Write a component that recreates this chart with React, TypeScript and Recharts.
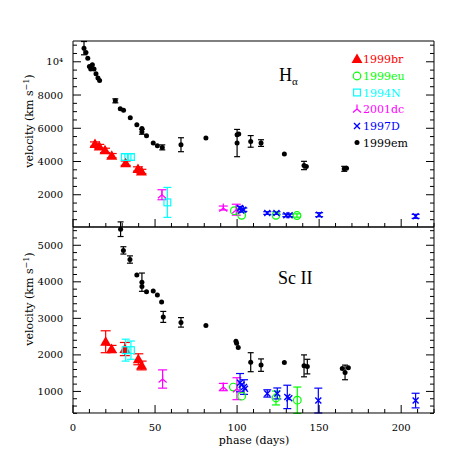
import React from "react"
import { ScatterChart, Scatter, XAxis, YAxis, ErrorBar } from "recharts"

type Pt = [number, number, number | null]

// H-alpha panel: [phase, velocity, error]
const haBr99: Pt[] = [[13.4, 5050, 130], [16, 4900, 130], [19.5, 4670, 130], [23.6, 4350, 130], [32.1, 3900, 130], [39.6, 3550, 130], [41.7, 3400, 130]]
const haEu99: Pt[] = [[98.3, 1040, null], [102.8, 760, null], [123.7, 760, null], [136.5, 750, 100]]
const haN94: Pt[] = [[31.6, 4270, 200], [35.3, 4270, 200], [57.5, 1540, 900]]
const haDc01: Pt[] = [[54.2, 2000, 300], [91.6, 1200, 120], [99.5, 1100, 330]]
const haD97: Pt[] = [[101.8, 1200, 100], [102.5, 1050, 80], [103.8, 1100, 100], [118.4, 900, 80], [124, 900, 80], [130, 760, 80], [132, 760, 80], [150, 800, 120], [208.8, 700, 120]]
const haEm99: Pt[] = [
  [6.7, 10820, 400], [7.9, 10560, null], [9.0, 10220, null], [10.0, 9720, null], [10.8, 9560, null], [11.8, 9820, null],
  [12.8, 9560, null], [14.0, 9280, null], [15.2, 9020, null], [16.2, 8880, null], [25.8, 7650, 120], [28.8, 7170, null],
  [30.8, 7090, null], [34.9, 6630, null], [38.9, 6210, null], [42.0, 5990, null], [42.0, 5790, 150], [44.8, 5550, null],
  [48.9, 5110, null], [51.4, 4950, null], [54.4, 4850, 150], [65.8, 5010, 420], [81, 5410, null], [100, 5610, null],
  [101, 5650, null], [100, 5110, 820], [108.3, 5210, 350], [114.6, 5110, 200], [128.8, 4450, null], [140.8, 3760, 250],
  [142.2, 3700, null], [165.3, 3560, 150], [166.7, 3600, null],
]

// Sc II panel
const scBr99: Pt[] = [[19.9, 2360, 300], [23.5, 2160, 100], [31.6, 2160, 180], [39.8, 1880, 150], [41.8, 1710, 120]]
const scEu99: Pt[] = [[97.7, 1120, null], [102.8, 870, null], [123.7, 820, 190], [136.7, 760, 360]]
const scN94: Pt[] = [[32.1, 2130, 300], [35.3, 2130, 250]]
const scDc01: Pt[] = [[54.6, 1340, 250], [91.6, 1120, 100], [99.9, 1075, 300]]
const scD97: Pt[] = [[101.8, 1240, 250], [102.8, 1180, null], [104.2, 1120, 200], [104.8, 1075, null], [118.4, 945, 100], [124.5, 945, 150], [130.6, 850, 320], [131.8, 815, null], [149.5, 750, 340], [208.8, 750, 200]]
const scEm99: Pt[] = [
  [29, 5440, 200], [30.7, 4860, 100], [34.7, 4610, 100], [38.9, 4190, null], [42, 3990, 250], [42, 3870, null],
  [44.8, 3730, null], [48.9, 3750, null], [51.4, 3640, null], [54, 3450, null], [55, 3040, 150], [65.8, 2890, 130],
  [81, 2805, null], [99.3, 2375, null], [99.7, 2320, null], [100.7, 2200, null], [108.3, 1800, 260], [114.6, 1720, 170],
  [128.8, 1790, null], [140.8, 1700, 300], [142.8, 1680, 200], [164.1, 1630, null], [165.8, 1520, 200], [167.8, 1650, null],
]

const names = ["1999br", "1999eu", "1994N", "2001dc", "1997D", "1999em"]
const colors = ["#FF0000", "#00FF00", "#00FFFF", "#FF00FF", "#0000FF", "#000000"]
const kinds = ["tri", "circ", "sq", "dc", "x", "dot"]
const caps = [5, 4, 4, 4.5, 4, 3]

const haSeries = [haBr99, haEu99, haN94, haDc01, haD97, haEm99]
const scSeries = [scBr99, scEu99, scN94, scDc01, scD97, scEm99]

const phaseTicks = [0, 50, 100, 150, 200]
const phaseMinor = Array.from({ length: 23 }, (_, i) => i * 10)
const haTicks = [2000, 4000, 6000, 8000, 10000]
const haMinor = Array.from({ length: 22 }, (_, i) => 500 + i * 500)
const scTicks = [1000, 2000, 3000, 4000, 5000]
const scMinor = Array.from({ length: 26 }, (_, i) => 400 + i * 200)

const FONT = "DejaVu Serif"
const THIN = 0.01 // axes need a positive size to render

function Marker({ kind, cx, cy, color }: { kind: string; cx: number; cy: number; color: string }) {
  if (cx == null || cy == null) return null
  switch (kind) {
    case "tri":
      return <polygon points={`${cx},${cy - 5.5} ${cx - 5.5},${cy + 4} ${cx + 5.5},${cy + 4}`} fill={color} />
    case "circ":
      return <circle cx={cx} cy={cy} r={3.8} fill="none" stroke={color} strokeWidth={1.2} />
    case "sq":
      return <rect x={cx - 3.4} y={cy - 3.4} width={6.8} height={6.8} fill="none" stroke={color} strokeWidth={1.2} />
    case "dc":
      return (
        <path d={`M${cx},${cy - 4.5} L${cx},${cy} M${cx},${cy} L${cx - 4},${cy + 3.5} M${cx},${cy} L${cx + 4},${cy + 3.5}`} stroke={color} strokeWidth={1.2} fill="none" />
      )
    case "x":
      return <path d={`M${cx - 3},${cy - 3} L${cx + 3},${cy + 3} M${cx - 3},${cy + 3} L${cx + 3},${cy - 3}`} stroke={color} strokeWidth={1.4} />
    default:
      return <circle cx={cx} cy={cy} r={2.5} fill={color} />
  }
}

// inward tick marks (long on majors), with optional labels outside the frame
function makeTick(side: "b" | "t" | "l" | "r", majors: number[], label?: (v: number) => string) {
  return (p: any) => {
    const v = p.payload.value
    const major = majors.includes(v)
    const len = major ? 8 : 4
    const { x, y } = p
    const txt = { fill: "#000", fontSize: 10, fontFamily: FONT }
    if (side === "b" || side === "t") {
      const dir = side === "b" ? -1 : 1
      return (
        <g>
          <line x1={x} x2={x} y1={y} y2={y + dir * len} stroke="#000" strokeWidth={1} />
          {label && major && <text x={x} y={y + 18} textAnchor="middle" {...txt}>{label(v)}</text>}
        </g>
      )
    }
    const dir = side === "l" ? 1 : -1
    return (
      <g>
        <line x1={x} x2={x + dir * len} y1={y} y2={y} stroke="#000" strokeWidth={1} />
        {label && major && <text x={x - 10} y={y + 3.6} textAnchor="end" {...txt}>{label(v)}</text>}
      </g>
    )
  }
}

const line = { stroke: "#000", strokeWidth: 1 }

function Panel(props: {
  top: number
  height: number
  margin: { top: number; right: number; bottom: number; left: number }
  yDomain: number[]
  yTicks: number[]
  yMinor: number[]
  yFormat: (v: number) => string
  series: Pt[][]
  showX: boolean
}) {
  const { top, height, margin, yDomain, yTicks, yMinor, yFormat, series, showX } = props
  const xd = [0, 220]
  return (
    <div style={{ position: "absolute", left: 0, top }}>
      <ScatterChart width={474} height={height} margin={margin}>
        <XAxis xAxisId="b" type="number" dataKey="x" domain={xd} allowDataOverflow ticks={phaseMinor} interval={0}
          height={THIN} tickSize={0} tickMargin={0} axisLine={line} tickLine={false}
          tick={makeTick("b", phaseTicks, showX ? (v) => String(v) : undefined)} />
        <XAxis xAxisId="t" orientation="top" type="number" domain={xd} allowDataOverflow ticks={phaseMinor} interval={0}
          height={THIN} tickSize={0} tickMargin={0} axisLine={line} tickLine={false} tick={makeTick("t", phaseTicks)} />
        <YAxis yAxisId="l" type="number" dataKey="y" domain={yDomain} allowDataOverflow ticks={yMinor} interval={0}
          width={THIN} tickSize={0} tickMargin={0} axisLine={line} tickLine={false} tick={makeTick("l", yTicks, yFormat)} />
        <YAxis yAxisId="r" orientation="right" type="number" domain={yDomain} allowDataOverflow ticks={yMinor} interval={0}
          width={THIN} tickSize={0} tickMargin={0} axisLine={line} tickLine={false} tick={makeTick("r", yTicks)} />
        {series.map((pts, i) => (
          <Scatter
            key={names[i]}
            name={names[i]}
            xAxisId="b"
            yAxisId="l"
            data={pts.map(([x, y, e]) => ({ x, y, e }))}
            isAnimationActive={false}
            shape={(p: any) => <Marker kind={kinds[i]} cx={p.cx} cy={p.cy} color={colors[i]} />}
          >
            <ErrorBar dataKey="e" direction="y" width={caps[i]} stroke={colors[i]} strokeWidth={1.2} />
          </Scatter>
        ))}
      </ScatterChart>
    </div>
  )
}

export default function App() {
  const legendY = [59, 76, 92.5, 109, 126, 142.5]
  return (
    <div style={{ position: "absolute", left: 0, top: 0, width: 474, height: 474, background: "#fff" }}>
      <Panel top={0} height={240} margin={{ top: 41, right: 40, bottom: 13, left: 73 }}
        yDomain={[60, 11250]} yTicks={haTicks} yMinor={haMinor}
        yFormat={(v) => (v === 10000 ? "10⁴" : String(v))} series={haSeries} showX={false} />
      <Panel top={200} height={274} margin={{ top: 27, right: 40, bottom: 61, left: 73 }}
        yDomain={[410, 5500]} yTicks={scTicks} yMinor={scMinor}
        yFormat={(v) => String(v)} series={scSeries} showX={true} />
      <svg width={474} height={474} style={{ position: "absolute", left: 0, top: 0, pointerEvents: "none" }}>
        {names.map((n, i) => (
          <g key={n}>
            <Marker kind={kinds[i]} cx={357} cy={legendY[i]} color={colors[i]} />
            <text x={363} y={legendY[i] + 4} fill={colors[i]} fontSize={11} fontFamily={FONT}>{n}</text>
          </g>
        ))}
        <text x={279} y={81} fontSize={18} fontFamily="Liberation Serif">H<tspan fontSize={11} dy={4}>α</tspan></text>
        <text x={278} y={284} fontSize={18} fontFamily="Liberation Serif">Sc II</text>
        <text transform="translate(33,121) rotate(-90)" textAnchor="middle" fontSize={11} fontFamily={FONT}>
          velocity (km s<tspan fontSize={8} dy={-4}>−1</tspan><tspan dy={4}>)</tspan>
        </text>
        <text transform="translate(33,299) rotate(-90)" textAnchor="middle" fontSize={11} fontFamily={FONT}>
          velocity (km s<tspan fontSize={8} dy={-4}>−1</tspan><tspan dy={4}>)</tspan>
        </text>
        <text x={254} y={444} textAnchor="middle" fontSize={11} fontFamily={FONT}>phase (days)</text>
      </svg>
    </div>
  )
}
